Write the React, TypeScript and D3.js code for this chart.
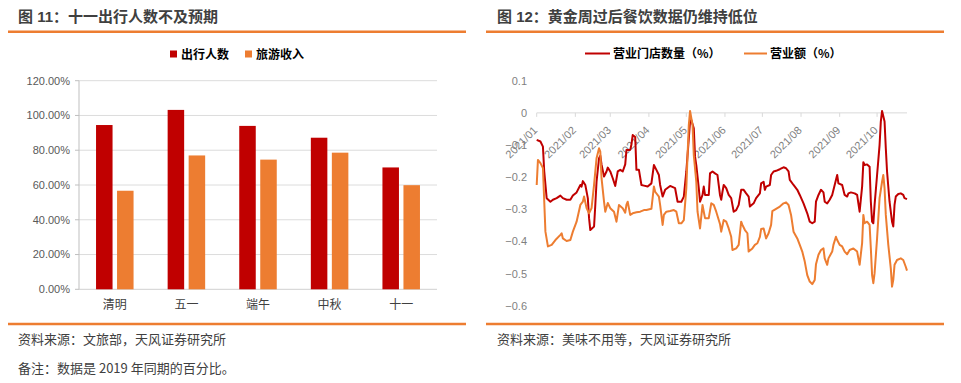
import React from 'react';
import * as d3 from 'd3';

// ---------- Left chart data ----------
const categories = ['清明', '五一', '端午', '中秋', '十一'];
const seriesNames = ['出行人数', '旅游收入'];
const travelers = [94.5, 103.2, 94.0, 87.2, 70.1];
const tourismRevenue = [56.7, 77.0, 74.6, 78.6, 59.9];
const pctTicks = [0, 20, 40, 60, 80, 100, 120];

// ---------- Right chart data ----------
const lineNames = ['营业门店数量（%）', '营业额（%）'];
const storeDates = [
  '2021-01-01','2021-01-04','2021-01-06','2021-01-07','2021-01-09','2021-01-12','2021-01-14','2021-01-17','2021-01-20','2021-01-22',
  '2021-01-25','2021-01-28','2021-01-30','2021-02-02','2021-02-05','2021-02-06','2021-02-07','2021-02-09','2021-02-11','2021-02-12',
  '2021-02-13','2021-02-16','2021-02-17','2021-02-18','2021-02-20','2021-02-21','2021-02-22','2021-02-24','2021-02-26','2021-02-27',
  '2021-03-01','2021-03-03','2021-03-05','2021-03-07','2021-03-09','2021-03-11','2021-03-13','2021-03-14','2021-03-17','2021-03-18',
  '2021-03-19','2021-03-21','2021-03-22','2021-03-24','2021-03-26','2021-03-28','2021-03-31','2021-04-03','2021-04-05','2021-04-07',
  '2021-04-09','2021-04-10','2021-04-12','2021-04-14','2021-04-18','2021-04-22','2021-04-24','2021-04-27','2021-04-29','2021-05-01',
  '2021-05-03','2021-05-04','2021-05-05','2021-05-07','2021-05-08','2021-05-09','2021-05-11','2021-05-12','2021-05-14','2021-05-15',
  '2021-05-16','2021-05-19','2021-05-20','2021-05-22','2021-05-24','2021-05-26','2021-05-28','2021-05-29','2021-05-30','2021-05-31',
  '2021-06-02','2021-06-04','2021-06-06','2021-06-08','2021-06-10','2021-06-12','2021-06-14','2021-06-16','2021-06-18','2021-06-20',
  '2021-06-21','2021-06-24','2021-06-26','2021-06-29','2021-06-30','2021-07-02','2021-07-03','2021-07-04','2021-07-07','2021-07-08',
  '2021-07-10','2021-07-12','2021-07-15','2021-07-18','2021-07-20','2021-07-22','2021-07-23','2021-07-26','2021-07-29','2021-07-31',
  '2021-08-03','2021-08-06','2021-08-08','2021-08-10','2021-08-12','2021-08-13','2021-08-15','2021-08-17','2021-08-19','2021-08-20',
  '2021-08-22','2021-08-24','2021-08-26','2021-08-28','2021-08-30','2021-08-31','2021-09-03','2021-09-05','2021-09-07','2021-09-08',
  '2021-09-10','2021-09-13','2021-09-15','2021-09-16','2021-09-17','2021-09-19','2021-09-20','2021-09-21','2021-09-23','2021-09-25',
  '2021-09-26','2021-09-27','2021-09-28','2021-09-29','2021-10-01','2021-10-03','2021-10-04','2021-10-05','2021-10-07','2021-10-08',
  '2021-10-09','2021-10-11','2021-10-13','2021-10-14','2021-10-15','2021-10-16','2021-10-18','2021-10-20','2021-10-22','2021-10-23',
  '2021-10-25',
];
const storeValues = [
  -0.084,-0.089,-0.105,-0.18,-0.265,-0.276,-0.27,-0.265,-0.257,-0.265,
  -0.27,-0.27,-0.257,-0.247,-0.224,-0.229,-0.212,-0.224,-0.265,-0.327,
  -0.364,-0.353,-0.286,-0.214,-0.141,-0.133,-0.16,-0.198,-0.182,-0.17,
  -0.182,-0.203,-0.227,-0.182,-0.177,-0.182,-0.16,-0.115,-0.115,-0.098,
  -0.069,-0.075,-0.177,-0.177,-0.224,-0.226,-0.229,-0.219,-0.162,-0.177,
  -0.193,-0.224,-0.26,-0.239,-0.227,-0.234,-0.276,-0.276,-0.26,-0.182,
  -0.079,-0.027,-0.022,-0.048,-0.136,-0.162,-0.234,-0.276,-0.255,-0.229,
  -0.255,-0.255,-0.188,-0.182,-0.188,-0.193,-0.255,-0.27,-0.245,-0.224,
  -0.234,-0.255,-0.265,-0.307,-0.302,-0.286,-0.239,-0.239,-0.25,-0.26,
  -0.291,-0.281,-0.265,-0.25,-0.219,-0.214,-0.239,-0.229,-0.224,-0.193,
  -0.182,-0.18,-0.175,-0.169,-0.172,-0.182,-0.208,-0.224,-0.239,-0.255,
  -0.281,-0.312,-0.338,-0.343,-0.338,-0.276,-0.255,-0.239,-0.247,-0.276,
  -0.281,-0.27,-0.255,-0.224,-0.193,-0.219,-0.224,-0.255,-0.26,-0.25,
  -0.247,-0.25,-0.255,-0.281,-0.307,-0.229,-0.153,-0.162,-0.16,-0.167,
  -0.276,-0.338,-0.343,-0.286,-0.193,-0.1,-0.027,0.006,-0.027,-0.11,
  -0.182,-0.276,-0.338,-0.353,-0.286,-0.26,-0.252,-0.25,-0.255,-0.265,
  -0.268,
];
const salesDates = [
  '2021-01-01','2021-01-02','2021-01-04','2021-01-06','2021-01-08','2021-01-10','2021-01-13','2021-01-16','2021-01-20','2021-01-21',
  '2021-01-22','2021-01-25','2021-01-28','2021-01-30','2021-02-02','2021-02-05','2021-02-07','2021-02-08','2021-02-10','2021-02-12',
  '2021-02-14','2021-02-16','2021-02-18','2021-02-20','2021-02-21','2021-02-22','2021-02-24','2021-02-25','2021-02-27','2021-03-01',
  '2021-03-04','2021-03-06','2021-03-08','2021-03-11','2021-03-13','2021-03-14','2021-03-15','2021-03-17','2021-03-19','2021-03-22',
  '2021-03-25','2021-03-28','2021-03-30','2021-04-03','2021-04-05','2021-04-06','2021-04-09','2021-04-10','2021-04-12','2021-04-13',
  '2021-04-15','2021-04-18','2021-04-21','2021-04-23','2021-04-25','2021-04-27','2021-04-29','2021-05-01','2021-05-02','2021-05-03',
  '2021-05-04','2021-05-06','2021-05-07','2021-05-09','2021-05-10','2021-05-12','2021-05-14','2021-05-15','2021-05-16','2021-05-19',
  '2021-05-21','2021-05-23','2021-05-25','2021-05-28','2021-05-29','2021-05-31','2021-06-02','2021-06-04','2021-06-06','2021-06-07',
  '2021-06-10','2021-06-12','2021-06-14','2021-06-15','2021-06-17','2021-06-19','2021-06-20','2021-06-23','2021-06-25','2021-06-27',
  '2021-06-29','2021-06-30','2021-07-02','2021-07-04','2021-07-06','2021-07-08','2021-07-09','2021-07-12','2021-07-15','2021-07-18',
  '2021-07-20','2021-07-22','2021-07-24','2021-07-26','2021-07-29','2021-07-31','2021-08-02','2021-08-04','2021-08-06','2021-08-08',
  '2021-08-10','2021-08-12','2021-08-13','2021-08-15','2021-08-17','2021-08-19','2021-08-20','2021-08-22','2021-08-23','2021-08-26',
  '2021-08-27','2021-08-29','2021-08-30','2021-09-01','2021-09-03','2021-09-05','2021-09-07','2021-09-09','2021-09-12','2021-09-15',
  '2021-09-16','2021-09-17','2021-09-19','2021-09-20','2021-09-21','2021-09-23','2021-09-25','2021-09-26','2021-09-27','2021-09-28',
  '2021-09-29','2021-10-01','2021-10-03','2021-10-05','2021-10-06','2021-10-07','2021-10-08','2021-10-10','2021-10-12','2021-10-13',
  '2021-10-14','2021-10-15','2021-10-17','2021-10-20','2021-10-22','2021-10-24','2021-10-25',
];
const salesValues = [
  -0.224,-0.146,-0.156,-0.171,-0.369,-0.415,-0.41,-0.395,-0.379,-0.374,
  -0.39,-0.398,-0.395,-0.369,-0.338,-0.286,-0.276,-0.26,-0.296,-0.312,
  -0.296,-0.224,-0.141,-0.11,-0.12,-0.203,-0.276,-0.307,-0.28,-0.296,
  -0.307,-0.338,-0.286,-0.296,-0.31,-0.285,-0.276,-0.317,-0.312,-0.309,
  -0.307,-0.302,-0.302,-0.298,-0.229,-0.245,-0.26,-0.286,-0.348,-0.317,
  -0.307,-0.305,-0.302,-0.307,-0.343,-0.343,-0.333,-0.234,-0.131,-0.038,
  0.006,-0.038,-0.131,-0.214,-0.307,-0.359,-0.286,-0.307,-0.327,-0.327,
  -0.281,-0.286,-0.307,-0.345,-0.369,-0.333,-0.338,-0.359,-0.385,-0.426,
  -0.421,-0.41,-0.338,-0.348,-0.364,-0.374,-0.431,-0.421,-0.41,-0.405,
  -0.385,-0.361,-0.359,-0.39,-0.374,-0.348,-0.305,-0.298,-0.291,-0.281,
  -0.278,-0.286,-0.317,-0.369,-0.39,-0.41,-0.431,-0.462,-0.504,-0.524,
  -0.532,-0.519,-0.47,-0.441,-0.426,-0.421,-0.452,-0.472,-0.452,-0.431,
  -0.41,-0.385,-0.395,-0.41,-0.415,-0.431,-0.439,-0.426,-0.421,-0.431,
  -0.452,-0.472,-0.405,-0.317,-0.343,-0.338,-0.348,-0.421,-0.504,-0.529,
  -0.498,-0.39,-0.265,-0.214,-0.193,-0.234,-0.317,-0.41,-0.483,-0.54,
  -0.519,-0.472,-0.457,-0.452,-0.457,-0.478,-0.49,
];
const valueTicks = [0.1, 0, -0.1, -0.2, -0.3, -0.4, -0.5, -0.6];

const RED = '#C00000';
const ORANGE = '#ED7D31';
const CJK = "'Noto Sans CJK SC', sans-serif";
const LAT = "'Liberation Sans', Arial, 'Noto Sans CJK SC', sans-serif";

export default function App() {
  // Left chart scales
  const y1 = d3.scaleLinear().domain([0, 120]).range([289.3, 80.7]);
  const x1 = d3.scaleBand<string>().domain(categories).range([79, 437]).paddingInner(0.476).paddingOuter(0.238);
  const xs = d3.scaleBand<string>().domain(seriesNames).range([0, x1.bandwidth()]).paddingInner(0.214);
  const barVals = [travelers, tourismRevenue];
  const barColors = [RED, ORANGE];

  // Right chart scales
  const parse = d3.utcParse('%Y-%m-%d');
  const x2 = d3.scaleUtc().domain([parse('2021-01-01') as Date, parse('2021-10-25') as Date]).range([536.7, 907]);
  const y2 = d3.scaleLinear().domain([-0.6, 0.1]).range([306, 80.7]);
  const line = d3.line<[Date, number]>().x(d => x2(d[0])).y(d => y2(d[1]));
  const storeData: [Date, number][] = storeDates.map((d, i) => [parse(d) as Date, storeValues[i]]);
  const salesData: [Date, number][] = salesDates.map((d, i) => [parse(d) as Date, salesValues[i]]);
  const months = d3.utcMonth.range(parse('2021-01-01') as Date, parse('2021-10-02') as Date);
  const fmtMonth = d3.utcFormat('%Y/%m');
  const y0 = y2(0);

  return (
    <svg width={961} height={383} style={{ position: 'absolute', left: 0, top: 0, background: '#fff' }}>
      <rect x={0} y={0} width={961} height={383} fill="#fff" />
      {/* Titles */}
      <text x={18} y={22} fontFamily={LAT} fontSize={15} fontWeight="bold" fill="#404040">图 11：十一出行人数不及预期</text>
      <text x={497} y={22} fontFamily={LAT} fontSize={15} fontWeight="bold" fill="#404040">图 12：黄金周过后餐饮数据仍维持低位</text>
      <line x1={8} x2={466} y1={31.8} y2={31.8} stroke={ORANGE} strokeWidth={2.5} />
      <line x1={486} x2={944} y1={31.8} y2={31.8} stroke={ORANGE} strokeWidth={2.5} />

      {/* Left legend */}
      {seriesNames.map((n, i) => (
        <g key={n} transform={`translate(${170 + i * 75},0)`}>
          <rect x={0} y={50.5} width={7} height={7} fill={barColors[i]} />
          <text x={11} y={58.5} fontFamily={CJK} fontSize={12} fontWeight="bold" fill="#000">{n}</text>
        </g>
      ))}

      {/* Left grid & axis */}
      {pctTicks.map(t => (
        <g key={t}>
          <line x1={79} x2={437} y1={y1(t)} y2={y1(t)} stroke={t === 0 ? '#d0d0d0' : '#dcdcdc'} strokeWidth={1} />
          <line x1={75} x2={79} y1={y1(t)} y2={y1(t)} stroke="#bfbfbf" />
          <text x={70} y={y1(t)} dy="0.35em" textAnchor="end" fontFamily={LAT} fontSize={11} fill="#595959">{t.toFixed(2)}%</text>
        </g>
      ))}
      <line x1={79} x2={79} y1={y1(120)} y2={y1(0)} stroke="#bfbfbf" />
      {categories.map((c, ci) => (
        <g key={c}>
          {seriesNames.map((s, si) => (
            <rect key={s} x={(x1(c) as number) + (xs(s) as number)} y={y1(barVals[si][ci])}
              width={xs.bandwidth()} height={y1(0) - y1(barVals[si][ci])} fill={barColors[si]} />
          ))}
          <text x={(x1(c) as number) + x1.bandwidth() / 2} y={309} textAnchor="middle" fontFamily={CJK} fontSize={12} fill="#404040">{c}</text>
        </g>
      ))}

      {/* Right legend */}
      <line x1={585} x2={610} y1={53.5} y2={53.5} stroke={RED} strokeWidth={2} />
      <text x={613} y={58} fontFamily={CJK} fontSize={12} fontWeight="bold" fill="#000">{lineNames[0]}</text>
      <line x1={744} x2={767} y1={53.5} y2={53.5} stroke={ORANGE} strokeWidth={2} />
      <text x={770} y={58} fontFamily={CJK} fontSize={12} fontWeight="bold" fill="#000">{lineNames[1]}</text>

      {/* Right axes */}
      {valueTicks.map(t => (
        <text key={t} x={527} y={y2(t)} dy="0.35em" textAnchor="end" fontFamily={LAT} fontSize={11} fill="#7f7f7f">{d3.format('')(+t.toFixed(1))}</text>
      ))}
      <line x1={536.7} x2={907} y1={y0} y2={y0} stroke="#d9d9d9" />
      {months.map(m => (
        <g key={m.toISOString()}>
          <line x1={x2(m)} x2={x2(m)} y1={y0} y2={y0 + 4} stroke="#d9d9d9" />
          <text transform={`translate(${x2(m) + 1.5},${y0 + 18}) rotate(-45)`} textAnchor="end" fontFamily={LAT} fontSize={11} fill="#7f7f7f">{fmtMonth(m)}</text>
        </g>
      ))}
      <path d={line(storeData) as string} fill="none" stroke={RED} strokeWidth={2} strokeLinejoin="round" />
      <path d={line(salesData) as string} fill="none" stroke={ORANGE} strokeWidth={2} strokeLinejoin="round" />

      {/* Footers */}
      <line x1={8} x2={466} y1={324} y2={324} stroke={ORANGE} strokeWidth={2.5} />
      <line x1={486} x2={944} y1={324} y2={324} stroke={ORANGE} strokeWidth={2.5} />
      <text x={18} y={344} fontFamily={CJK} fontSize={13} fill="#404040">资料来源：文旅部，天风证券研究所</text>
      <text x={18} y={373} fontFamily={CJK} fontSize={13} fill="#404040">备注：数据是 2019 年同期的百分比。</text>
      <text x={497} y={344} fontFamily={CJK} fontSize={13} fill="#404040">资料来源：美味不用等，天风证券研究所</text>
    </svg>
  );
}
